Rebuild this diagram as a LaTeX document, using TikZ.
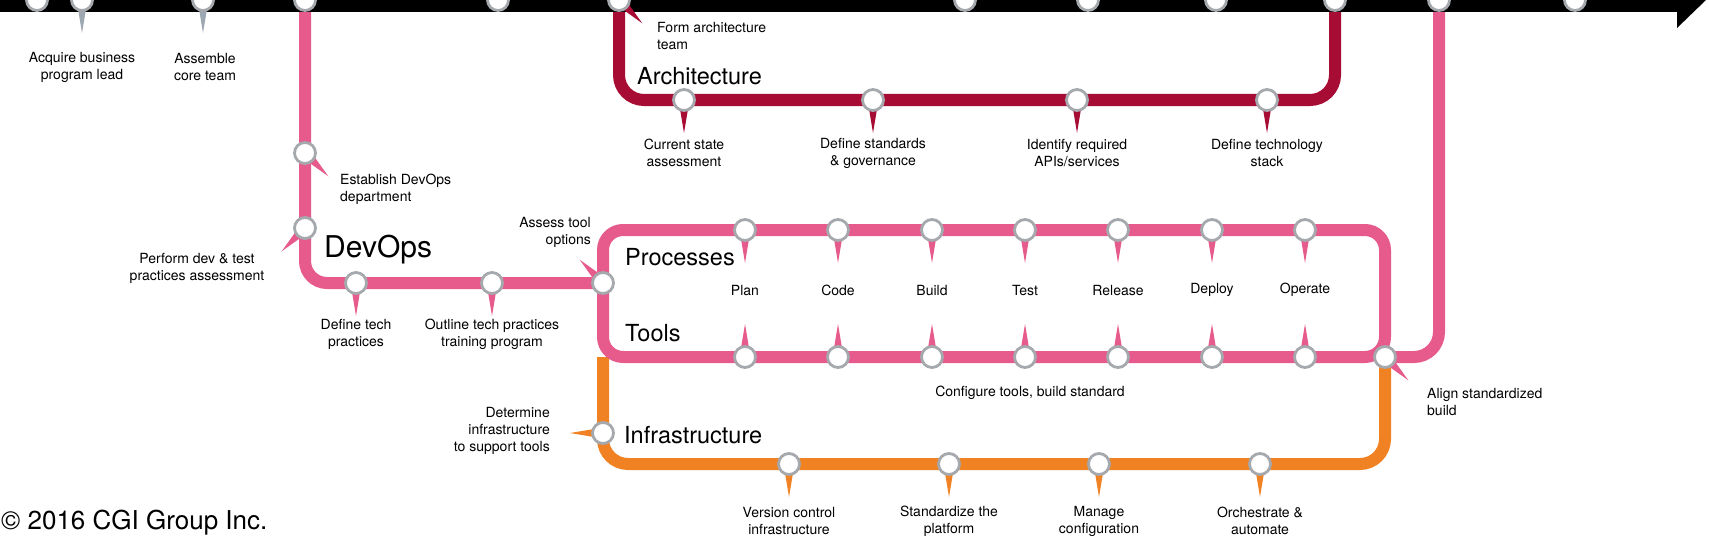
\documentclass[tikz,border=0pt]{standalone}
\usepackage{fontspec}
\setmainfont{TeX Gyre Heros}
\usetikzlibrary{calc}
\definecolor{archred}{RGB}{166,12,52}
\definecolor{devpink}{RGB}{230,90,140}
\definecolor{infraorange}{RGB}{240,130,35}
\definecolor{stationgray}{RGB}{165,168,172}
\definecolor{pointgray}{RGB}{158,168,178}
\pgfdeclarelayer{bg}
\pgfsetlayers{bg,main}
\newcommand{\ptr}[3]{\fill[#3] ($(#1)+(#2+90:5.5)$) -- ($(#1)+(#2:33)$) -- ($(#1)+(#2-90:5.5)$) -- cycle;}
\begin{document}
\begin{tikzpicture}[x=1pt,y=-1pt,
  station/.style={circle, draw=stationgray, line width=2.8pt, fill=white, minimum size=21pt, inner sep=0pt},
  lbl/.style={font=\fontsize{14}{17}\selectfont, align=center, inner sep=0pt},
  lbll/.style={lbl, align=left, anchor=west},
  lblr/.style={lbl, align=right, anchor=east},
  sectionlbl/.style={font=\fontsize{23.5}{28}\selectfont, anchor=west, inner sep=0pt},
  track/.style={line width=12pt, line cap=butt}
]
\useasboundingbox (0,0) rectangle (1709,543);

% ---------- stations ----------
\foreach \n/\x in {t1/37,t2/82,t3/203,t4/305,t5/498,t6/619,t7/965,t8/1088,t9/1216,t10/1335,t11/1439,t12/1575}
  \node[station] (\n) at (\x,0) {};
\foreach \n/\x in {a1/684,a2/873,a3/1077,a4/1267}
  \node[station] (\n) at (\x,100) {};
\node[station] (d1) at (305,153) {};
\node[station] (d2) at (305,228) {};
\node[station] (d3) at (356,283) {};
\node[station] (d4) at (492,283) {};
\node[station] (j) at (603,283) {};
\foreach \n/\x in {1/745,2/838,3/932,4/1025,5/1118,6/1212,7/1305}{
  \node[station] (p\n) at (\x,230) {};
  \node[station] (q\n) at (\x,357) {};
}
\node[station] (al) at (1385,357) {};
\node[station] (i0) at (603,433) {};
\foreach \n/\x in {o1/789,o2/949,o3/1099,o4/1260}
  \node[station] (\n) at (\x,464) {};
\coordinate (arrowtip) at (1706,0);

% ---------- tracks and pointers ----------
\begin{pgfonlayer}{bg}
\draw[track, infraorange, rounded corners=25pt] (i0.center |- al.center) -- (i0.center |- o1.center) -- (al.center |- o1.center) -- (al.center);
\draw[track, archred, rounded corners=25pt] (t6.center) -- (t6.center |- a1.center) -- (t10.center |- a1.center) -- (t10.center);
\draw[track, devpink, rounded corners=22pt] (t4.center) -- (t4.center |- d3.center) -- (j.center);
\draw[track, devpink, rounded corners=20pt, line join=round] (j.center) -- (j.center |- p1.center) -- (al.center |- p1.center) -- (al.center) -- (j.center |- al.center) -- cycle;
\draw[track, devpink, rounded corners=25pt] (t11.center) -- (t11.center |- al.center) -- (al.center);
% main timeline
\fill[black] (-5,-12) rectangle (1677,12);
\fill[black] (1677,-28) -- (arrowtip) -- (1677,28) -- cycle;
% pointers
\ptr{t2}{90}{pointgray}
\ptr{t3}{90}{pointgray}
\ptr{t6}{45}{archred}
\foreach \n in {a1,a2,a3,a4} {\ptr{\n}{90}{archred}}
\ptr{d1}{45}{devpink}
\ptr{d2}{135}{devpink}
\ptr{d3}{90}{devpink}
\ptr{d4}{90}{devpink}
\ptr{j}{225}{devpink}
\foreach \n in {1,...,7} {\ptr{p\n}{90}{devpink}\ptr{q\n}{270}{devpink}}
\ptr{al}{45}{devpink}
\ptr{i0}{180}{infraorange}
\foreach \n in {o1,o2,o3,o4} {\ptr{\n}{90}{infraorange}}
\end{pgfonlayer}

% ---------- labels ----------
\node[lbl] (lt2) at (82,67) {Acquire business\\program lead};
\node[lbl] (lt3) at (205,67) {Assemble\\core team};
\node[lbll] (lt6) at (657,36) {Form architecture\\team};
\node[sectionlbl] (larch) at (637,76) {Architecture};
\node[lbl] (la1) at (684,153) {Current state\\assessment};
\node[lbl] (la2) at (873,153) {Define standards\\\& governance};
\node[lbl] (la3) at (1077,153) {Identify required\\APIs/services};
\node[lbl] (la4) at (1267,153) {Define technology\\stack};
\node[lbll] (ld1) at (340,189) {Establish DevOps\\department};
\node[lbl] (ld2) at (197,268) {Perform dev \& test\\practices assessment};
\node[font=\fontsize{30}{34}\selectfont, anchor=west, inner sep=0pt] (ldev) at (324,250) {DevOps};
\node[lbl] (ld3) at (356,334) {Define tech\\practices};
\node[lbl] (ld4) at (492,334) {Outline tech practices\\training program};
\node[lblr] (lj) at (591,232) {Assess tool\\options};
\node[sectionlbl] (lproc) at (625,257) {Processes};
\node[sectionlbl] (ltools) at (625,333) {Tools};
\foreach \n/\t in {1/Plan,2/Code,3/Build,4/Test,5/Release,6/Deploy,7/Operate}
  \node[lbl] (lp\n) at (p\n |- 0,290) {\t};
\node[lbl] (lcfg) at (1030,393) {Configure tools, build standard};
\node[lbll] (lal) at (1427,402) {Align standardized\\build};
\node[lblr] (li0) at (550,431) {Determine\\infrastructure\\to support tools};
\node[sectionlbl] (linf) at (624,435) {Infrastructure};
\node[lbl] (lo1) at (789,521) {Version control\\infrastructure};
\node[lbl] (lo2) at (949,521) {Standardize the\\platform};
\node[lbl] (lo3) at (1099,521) {Manage\\configuration};
\node[lbl] (lo4) at (1260,521) {Orchestrate \&\\automate};
\node[font=\fontsize{26}{30}\selectfont, anchor=base west, inner sep=0pt] (copy) at (1,529) {© 2016 CGI Group Inc.};
\end{tikzpicture}
\end{document}
